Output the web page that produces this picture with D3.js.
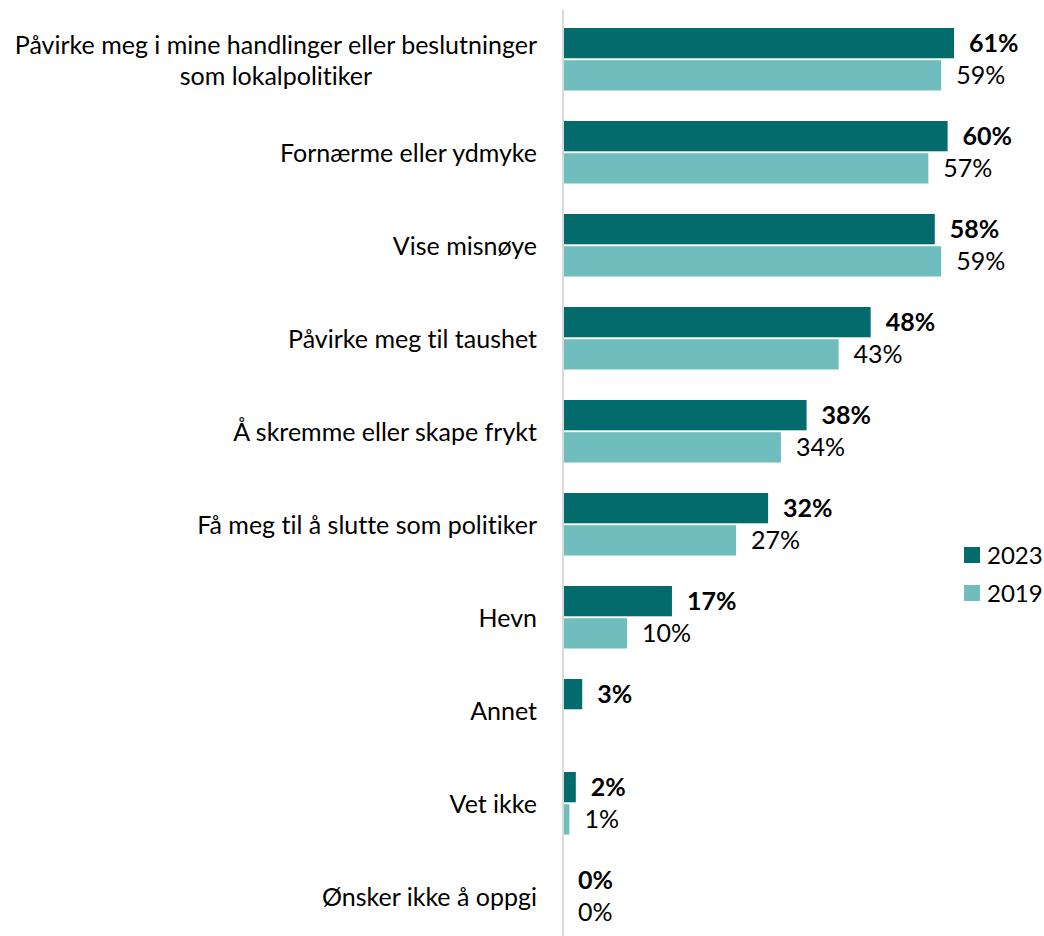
<!DOCTYPE html>
<html>
<head>
<meta charset="utf-8">
<script src="https://cdn.jsdelivr.net/npm/d3@7"></script>
<style>
  body { margin: 0; background: #fff; }
  svg text { font-family: Lato, "Open Sans", sans-serif; fill: #000; font-variant-ligatures: none; }
</style>
</head>
<body>
<svg id="chart" width="1044" height="936"></svg>
<script>
// categories top to bottom (multi-line labels split with |)
var categories = [
  "Påvirke meg i mine handlinger eller beslutninger|som lokalpolitiker",
  "Fornærme eller ydmyke",
  "Vise misnøye",
  "Påvirke meg til taushet",
  "Å skremme eller skape frykt",
  "Få meg til å slutte som politiker",
  "Hevn",
  "Annet",
  "Vet ikke",
  "Ønsker ikke å oppgi"
]
var series = ["2023", "2019"]
var values2023 = [61, 60, 58, 48, 38, 32, 17, 3, 2, 0]
var values2019 = [59, 57, 59, 43, 34, 27, 10, null, 1, 0]
var colors = {"2023": "#036b6b", "2019": "#70bdbd"}

var svg = d3.select("#chart")
var axisX = 563
var fontSize = 25

var y0 = d3.scaleBand()
    .domain(categories)
    .range([12.5, 942.5])

var y1 = d3.scaleBand()
    .domain(series)
    .range([15.5, 78])
    .paddingInner(0.06)

var x = d3.scaleLinear()
    .domain([0, 61])
    .range([axisX, 954])

var rows = []
categories.forEach(function(c, i) {
  rows.push({cat: c, key: "2023", v: values2023[i]})
  rows.push({cat: c, key: "2019", v: values2019[i]})
})
rows = rows.filter(d => d.v !== null)

// bars
svg.append("g").selectAll("rect")
  .data(rows)
  .enter().append("rect")
    .attr("x", x(0))
    .attr("y", d => y0(d.cat) + y1(d.key))
    .attr("width", d => x(d.v) - x(0))
    .attr("height", y1.bandwidth())
    .attr("fill", d => colors[d.key])

// value labels
svg.append("g").selectAll("text")
  .data(rows)
  .enter().append("text")
    .attr("x", d => x(d.v) + 15)
    .attr("y", d => y0(d.cat) + y1(d.key) + y1.bandwidth() / 2)
    .attr("dy", "0.36em")
    .style("font-size", fontSize + "px")
    .style("font-weight", d => d.key == "2023" ? "bold" : "normal")
    .text(d => d.v + "%")

// vertical axis line
svg.append("line")
  .attr("x1", axisX).attr("x2", axisX)
  .attr("y1", 10).attr("y2", 936)
  .attr("stroke", "#d9d9d9")
  .attr("stroke-width", 2)

// category labels, right aligned; wrapped lines centered within the block
var labelRight = 537
var lineH = 31
categories.forEach(function(c) {
  var lines = c.split("|")
  var cy = y0(c) + y0.bandwidth() / 2 + 1
  var t = svg.append("text")
    .style("font-size", fontSize + "px")
  lines.forEach(function(l, j) {
    t.append("tspan")
      .attr("y", cy + (j - (lines.length - 1) / 2) * lineH)
      .attr("dy", "0.36em")
      .text(l)
  })
  if (lines.length == 1) {
    t.attr("text-anchor", "end").selectAll("tspan").attr("x", labelRight)
  } else {
    var maxW = 0
    t.selectAll("tspan").each(function() {
      maxW = Math.max(maxW, this.getComputedTextLength())
    })
    t.attr("text-anchor", "middle").selectAll("tspan").attr("x", labelRight - maxW / 2)
  }
})

// legend
var legend = svg.append("g").selectAll("g")
  .data(series)
  .enter().append("g")
    .attr("transform", (d, i) => "translate(964," + (547 + i * 38) + ")")

legend.append("rect")
  .attr("width", 16)
  .attr("height", 16)
  .attr("fill", d => colors[d])

legend.append("text")
  .attr("x", 23)
  .attr("y", 8)
  .attr("dy", "0.36em")
  .style("font-size", "24px")
  .text(d => d)
</script>
</body>
</html>
